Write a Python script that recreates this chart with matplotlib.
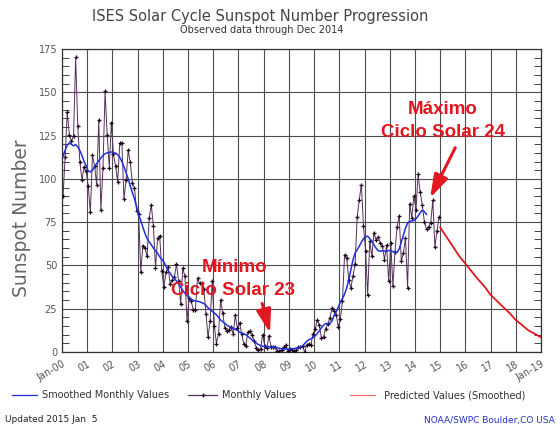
import numpy as np
import matplotlib
matplotlib.use("Agg")
import matplotlib.pyplot as plt
from matplotlib.lines import Line2D

# Monthly sunspot numbers, Jan 2000 - Dec 2014
monthly = [
    90.1, 112.9, 138.5, 125.5, 121.6, 124.9, 170.1, 130.5, 109.7, 99.4, 106.8, 104.4,   # 2000
    95.6, 80.6, 113.5, 107.7, 96.6, 134.0, 81.8, 106.4, 150.7, 125.5, 106.5, 132.2,     # 2001
    114.1, 107.4, 98.4, 120.7, 120.8, 88.3, 99.6, 116.4, 109.6, 97.5, 95.0, 81.6,       # 2002
    79.5, 46.2, 61.5, 60.0, 55.2, 77.4, 85.0, 72.7, 48.8, 65.6, 67.2, 46.7,             # 2003
    37.3, 46.0, 48.9, 39.3, 41.5, 43.2, 51.0, 40.9, 27.7, 48.4, 43.7, 17.9,             # 2004
    31.3, 29.2, 24.5, 24.4, 42.6, 39.6, 39.9, 36.4, 22.1, 8.5, 18.0, 41.2,              # 2005
    15.3, 4.9, 10.6, 30.2, 22.3, 13.9, 12.2, 12.9, 14.4, 10.5, 21.4, 13.6,              # 2006
    16.9, 10.6, 4.8, 3.7, 11.7, 12.0, 10.0, 6.2, 2.4, 0.9, 1.7, 10.1,                   # 2007
    3.3, 2.1, 9.3, 2.9, 2.9, 3.1, 0.5, 0.5, 1.1, 2.9, 4.1, 0.8,                         # 2008
    1.5, 1.4, 0.7, 1.2, 2.9, 2.6, 3.5, 0.0, 4.2, 4.6, 4.2, 10.6,                        # 2009
    13.1, 18.6, 15.4, 7.9, 8.8, 13.5, 16.1, 19.6, 25.2, 23.5, 21.6, 14.5,               # 2010
    19.0, 29.4, 56.2, 54.4, 41.6, 37.0, 43.8, 50.6, 78.0, 88.0, 96.7, 73.0,             # 2011
    58.3, 33.1, 64.2, 55.2, 69.0, 64.5, 66.5, 63.0, 61.4, 53.3, 61.8, 40.8,             # 2012
    62.9, 38.1, 57.9, 72.4, 78.7, 52.5, 57.0, 66.0, 37.0, 85.6, 77.6, 90.3,             # 2013
    82.0, 102.8, 92.2, 84.7, 75.2, 71.0, 72.4, 74.6, 87.6, 60.6, 70.1, 78.0,            # 2014
]

# 13-month smoothed values, Jan 2000 - Jun 2014
smoothed = [
    113.0, 116.5, 119.5, 120.8, 120.0, 119.0, 119.8, 118.5, 116.3, 113.5, 110.0, 107.5,
    104.5, 104.0, 105.0, 107.0, 108.8, 110.5, 112.0, 113.5, 114.5, 115.0, 115.3, 115.5,
    115.2, 114.8, 114.0, 112.5, 110.0, 107.0, 103.5, 100.0, 96.0, 92.0, 88.5, 84.0,
    79.0, 76.0, 72.0, 68.5, 65.5, 63.5, 62.0, 60.0, 58.5, 57.0, 55.0, 53.5,
    52.0, 49.5, 47.0, 45.5, 43.5, 42.5, 41.0, 39.5, 37.5, 35.5, 34.0, 32.5,
    31.5, 30.5, 29.8, 29.5, 29.3, 29.0, 28.5, 28.0, 27.0, 25.5, 24.5, 23.5,
    22.5, 21.5, 20.0, 18.5, 17.5, 16.5, 15.5, 14.8, 14.0, 13.5, 13.0, 12.5,
    11.5, 11.0, 10.5, 10.0, 9.0, 8.0, 7.0, 6.0, 5.0, 4.3, 3.8, 3.3,
    3.2, 3.1, 3.0, 2.9, 2.8, 2.6, 2.4, 2.1, 1.9, 1.8, 1.7, 1.7,
    1.8, 1.9, 2.0, 2.2, 2.3, 2.7, 3.6, 4.8, 6.2, 7.1, 7.6, 8.3,
    9.3, 10.6, 12.3, 14.0, 15.5, 16.4, 16.4, 16.6, 17.9, 21.1, 23.1, 25.8,
    28.9, 30.9, 33.4, 36.9, 41.8, 47.6, 53.2, 57.2, 59.0, 61.1, 63.4, 65.5,
    66.5, 66.9, 65.5, 64.0, 61.7, 60.0, 58.5, 58.2, 58.5, 58.3, 58.0, 58.7,
    58.5, 58.0, 57.5, 57.5, 59.5, 63.5, 67.5, 71.5, 74.5, 75.5, 75.7, 76.0,
    77.0, 78.5, 80.5, 81.9, 81.0, 79.5,
]

# Predicted smoothed values, quarterly from Jan 2015 to Jan 2019
pred_years = [15.0, 15.25, 15.5, 15.75, 16.0, 16.25, 16.5, 16.75, 17.0,
              17.25, 17.5, 17.75, 18.0, 18.25, 18.5, 18.75, 19.0]
predicted = [72.0, 66.5, 61.0, 55.5, 51.0, 46.5, 42.0, 38.0, 33.0,
             29.5, 26.0, 22.5, 18.5, 15.5, 12.5, 10.5, 8.5]

tick_labels = ['Jan-00', '01', '02', '03', '04', '05', '06', '07', '08', '09',
               '10', '11', '12', '13', '14', '15', '16', '17', '18', 'Jan-19']

# x positions: years since Jan 2000, mid-month
t_monthly = np.arange(len(monthly)) / 12 + 1 / 24
t_smooth = np.arange(len(smoothed)) / 12 + 1 / 24

RED = '#e3171f'
BLUE = '#1f2fe0'
PURPLE = '#55305a'

fig = plt.figure(figsize=(5.6, 4.28), dpi=100)
ax = fig.add_axes([62 / 560, 76 / 428, 479 / 560, 303 / 428])

ax.plot(t_monthly, monthly, color=PURPLE, lw=0.7, marker='+', ms=3,
        mew=0.9, mec='#1a001a', zorder=3)
ax.plot(t_smooth, smoothed, color=BLUE, lw=1.1, zorder=4)
ax.plot(pred_years, predicted, color=RED, lw=1.3, zorder=4)

ax.set_xlim(0, 19)
ax.set_ylim(0, 175)
ax.set_xticks(range(20))
ax.set_xticklabels(tick_labels, rotation=30, ha='right', va='top',
                   rotation_mode='anchor', fontsize=7, color='#555555')
ax.set_yticks(range(0, 176, 25))
ax.set_yticks(range(0, 176, 5), minor=True)
ax.tick_params(axis='x', length=0, pad=5)
ax.tick_params(axis='y', which='both', direction='in', right=True,
               labelsize=7, labelcolor='#555555', color='#444444')
ax.tick_params(axis='y', which='major', length=0)
ax.tick_params(axis='y', which='minor', length=5, width=0.7)
ax.grid(True, color='#4d4d4d', lw=0.8)
for s in ax.spines.values():
    s.set_color('#333333')
    s.set_linewidth(0.9)

# annotations
arrow = dict(arrowstyle='-|>,head_length=0.7,head_width=0.22', color=RED,
             lw=2.2, mutation_scale=20, shrinkA=0, shrinkB=0)
ax.text(6.83, 49, 'Mínimo', color=RED, fontsize=13.5, fontweight='bold',
        family='Liberation Sans', ha='center', va='center', zorder=6)
ax.text(6.79, 35.8, 'Ciclo Solar 23', color=RED, fontsize=13.5, fontweight='bold',
        family='Liberation Sans', ha='center', va='center', zorder=6)
ax.annotate('', xy=(8.25, 11), xytext=(7.94, 28), arrowprops=arrow, zorder=6)
ax.text(15.12, 140, 'Máximo', color=RED, fontsize=13.5, fontweight='bold',
        family='Liberation Sans', ha='center', va='center', zorder=6)
ax.text(15.12, 127, 'Ciclo Solar 24', color=RED, fontsize=13.5, fontweight='bold',
        family='Liberation Sans', ha='center', va='center', zorder=6)
ax.annotate('', xy=(14.6, 89), xytext=(15.6, 118), arrowprops=arrow, zorder=6)

# titles
fig.text(260 / 560, 1 - 16 / 428, 'ISES Solar Cycle Sunspot Number Progression',
         ha='center', va='center', fontsize=10.5, color='#444444')
fig.text(262 / 560, 1 - 30 / 428, 'Observed data through Dec 2014',
         ha='center', va='center', fontsize=7, color='#333333')
fig.text(22 / 560, 1 - 218 / 428, 'Sunspot Number', rotation=90,
         ha='center', va='center', fontsize=13.5, color='#666666')

# legend row
ly = 1 - 395 / 428
fig.add_artist(Line2D([12 / 560, 37 / 560], [ly, ly], color=BLUE, lw=0.9))
fig.text(42 / 560, ly, 'Smoothed Monthly Values', fontsize=7, va='center', color='#333333')
fig.add_artist(Line2D([188 / 560, 217 / 560], [ly, ly], color=PURPLE, lw=0.9))
fig.add_artist(Line2D([202.5 / 560], [ly], color='#1a001a', marker='+', ms=3, mew=0.9))
fig.text(222 / 560, ly, 'Monthly Values', fontsize=7, va='center', color='#333333')
fig.add_artist(Line2D([350 / 560, 375 / 560], [ly, ly], color='#f07070', lw=0.9))
fig.text(384 / 560, ly, 'Predicted Values (Smoothed)', fontsize=7, va='center', color='#333333')

# footer
fy = 1 - 420 / 428
fig.text(5 / 560, fy, 'Updated 2015 Jan  5', fontsize=6.5, va='center', color='#222222')
fig.text(555 / 560, fy, 'NOAA/SWPC Boulder,CO USA', fontsize=6.5, va='center',
         ha='right', color='#2233cc')

fig.savefig('out.png', dpi=100)
